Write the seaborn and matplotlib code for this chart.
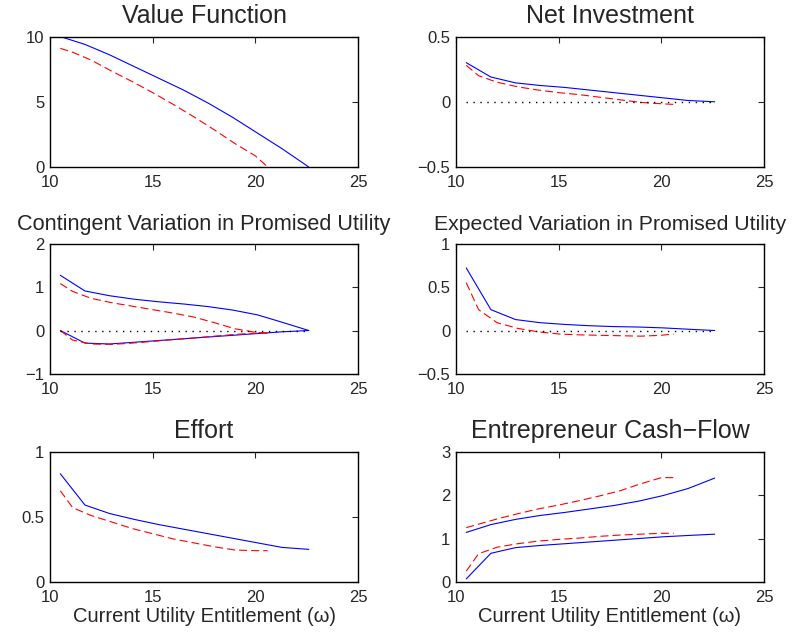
import numpy as np
import matplotlib
matplotlib.use("Agg")
import matplotlib.pyplot as plt
import seaborn as sns

# grids (current utility entitlement)
w_blue = [10.5, 11.7, 12.9, 14.1, 15.3, 16.5, 17.7, 18.9, 20.1, 21.3, 22.6]
w_red = [10.5, 11.1, 12.0, 13.0, 14.0, 15.0, 16.0, 17.0, 18.0, 19.0, 20.0, 20.6]

# value function
value_blue = [10.0, 9.4, 8.6, 7.7, 6.8, 5.9, 4.9, 3.8, 2.6, 1.4, 0.0]
value_red = [9.1, 8.8, 8.2, 7.35, 6.55, 5.7, 4.8, 3.85, 2.85, 1.8, 0.85, 0.0]

# net investment
inv_blue = [0.30, 0.19, 0.145, 0.125, 0.11, 0.09, 0.07, 0.05, 0.03, 0.01, 0.0]
inv_red = [0.28, 0.20, 0.15, 0.115, 0.09, 0.07, 0.055, 0.035, 0.015, -0.005, -0.015, -0.02]

# contingent variation in promised utility (upper / lower branch)
cont_blue_hi = [1.27, 0.91, 0.80, 0.72, 0.66, 0.61, 0.55, 0.47, 0.36, 0.19, 0.0]
cont_blue_lo = [0.0, -0.29, -0.31, -0.27, -0.23, -0.19, -0.15, -0.11, -0.07, -0.03, 0.0]
cont_red_hi = [1.08, 0.90, 0.74, 0.64, 0.56, 0.48, 0.40, 0.31, 0.18, 0.04, -0.04, -0.06]
cont_red_lo = [0.0, -0.22, -0.31, -0.32, -0.29, -0.25, -0.21, -0.17, -0.13, -0.09, -0.06, -0.06]

# expected variation in promised utility
exp_blue = [0.72, 0.24, 0.126, 0.09, 0.07, 0.055, 0.045, 0.04, 0.03, 0.015, 0.0]
exp_red = [0.55, 0.24, 0.09, 0.025, -0.015, -0.04, -0.05, -0.055, -0.06, -0.065, -0.055, -0.04]

# effort
eff_blue = [0.83, 0.59, 0.525, 0.48, 0.44, 0.405, 0.37, 0.335, 0.30, 0.265, 0.25]
eff_red = [0.70, 0.57, 0.51, 0.46, 0.41, 0.37, 0.33, 0.30, 0.27, 0.245, 0.24, 0.24]

# entrepreneur cash-flow (upper / lower branch)
cash_blue_hi = [1.14, 1.32, 1.44, 1.53, 1.60, 1.68, 1.76, 1.86, 1.99, 2.15, 2.39]
cash_blue_lo = [0.07, 0.66, 0.79, 0.84, 0.88, 0.92, 0.96, 1.00, 1.04, 1.07, 1.10]
cash_red_hi = [1.25, 1.33, 1.45, 1.57, 1.68, 1.77, 1.87, 1.98, 2.10, 2.26, 2.40, 2.40]
cash_red_lo = [0.25, 0.65, 0.80, 0.88, 0.94, 0.98, 1.01, 1.05, 1.08, 1.10, 1.12, 1.12]

sns.set_style("white")
plt.rcParams['font.family'] = ['Liberation Sans', 'DejaVu Sans']
plt.rcParams['lines.scale_dashes'] = False

fig = plt.figure(figsize=(7.98, 6.33), dpi=100)

lefts = [0.0627, 0.5714]
bottoms = [0.7362, 0.4092, 0.0806]
w, h = 0.386, 0.206


def panel(row, col, title, blues, reds, ylim, yticks, zero=False, xlabel=False, tsize=18):
    ax = fig.add_axes([lefts[col], bottoms[row], w, h])
    for yb in blues:
        sns.lineplot(x=w_blue, y=yb, ax=ax, color='#0000ff', lw=0.8,
                     estimator=None, sort=False)
    for yr in reds:
        sns.lineplot(x=w_red, y=yr, ax=ax, color='#ff0000', lw=0.8,
                     estimator=None, sort=False, linestyle=(0, (5.8, 2.9)))
    if zero:
        sns.lineplot(x=[w_blue[0], w_blue[-1]], y=[0, 0], ax=ax, color='black',
                     lw=1.0, estimator=None, linestyle=(0, (1, 4)))
    ax.set_xlim(10, 25)
    ax.set_xticks([10, 15, 20, 25])
    ax.set_ylim(*ylim)
    ax.set_yticks(yticks)
    ax.set_yticklabels([('%g' % t).replace('-', '\u2212') for t in yticks])
    ax.tick_params(direction='in', top=True, right=True, length=4,
                   width=0.8, labelsize=12)
    ax.tick_params(axis='x', pad=6)
    ax.tick_params(axis='y', pad=4)
    for s in ax.spines.values():
        s.set_color('black')
        s.set_linewidth(1.0)
    ax.set_title(title, fontsize=tsize, pad=10)
    if xlabel:
        ax.set_xlabel('Current Utility Entitlement (\u03c9)', fontsize=14.5, labelpad=1)
    else:
        ax.set_xlabel('')
    ax.set_ylabel('')
    return ax


panel(0, 0, 'Value Function', [value_blue], [value_red], (0, 10), [0, 5, 10])
panel(0, 1, 'Net Investment', [inv_blue], [inv_red], (-0.5, 0.5), [-0.5, 0, 0.5], zero=True)
panel(1, 0, 'Contingent Variation in Promised Utility', [cont_blue_hi, cont_blue_lo],
      [cont_red_hi, cont_red_lo], (-1, 2), [-1, 0, 1, 2], zero=True, tsize=15.6)
panel(1, 1, 'Expected Variation in Promised Utility', [exp_blue], [exp_red],
      (-0.5, 1), [-0.5, 0, 0.5, 1], zero=True, tsize=15.3)
panel(2, 0, 'Effort', [eff_blue], [eff_red], (0, 1), [0, 0.5, 1], xlabel=True)
panel(2, 1, 'Entrepreneur Cash\u2212Flow', [cash_blue_hi, cash_blue_lo],
      [cash_red_hi, cash_red_lo], (0, 3), [0, 1, 2, 3], xlabel=True)

fig.savefig('out.png', dpi=100)
